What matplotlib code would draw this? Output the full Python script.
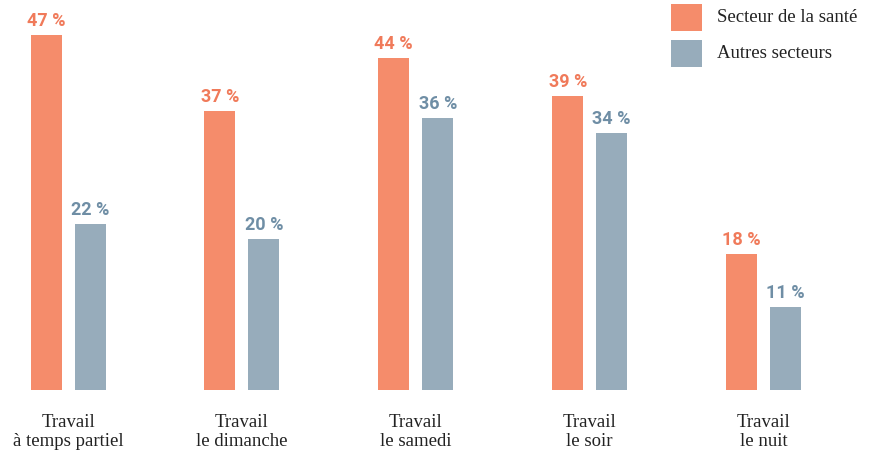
import matplotlib
matplotlib.use("Agg")
import matplotlib.pyplot as plt
from matplotlib.patches import Rectangle
import numpy as np

categories = ["Travail\nà temps partiel", "Travail\nle dimanche", "Travail\nle samedi", "Travail\nle soir", "Travail\nle nuit"]
series_names = ["Secteur de la santé", "Autres secteurs"]
sante = [47, 37, 44, 39, 18]
autres = [22, 20, 36, 34, 11]

bar_colors = ["#F58C6B", "#97ACBB"]
text_colors = ["#F07A5A", "#6F8EA5"]

W, H = 871, 454
fig = plt.figure(figsize=(W / 100, H / 100), dpi=100)
ax = fig.add_axes([0, 0, 1, 1])
step = 173.9
c0 = 68
base_px = 64
ppu = 7.55
ax.set_xlim(-c0 / step, (W - c0) / step)
ax.set_ylim(-base_px / ppu, (H - base_px) / ppu)
ax.axis("off")

x = np.arange(len(categories))
bw = 31 / step
off = 22 / step
for vals, dx, bc, tc in [(sante, -off, bar_colors[0], text_colors[0]),
                         (autres, off, bar_colors[1], text_colors[1])]:
    ax.bar(x + dx, vals, width=bw, color=bc, linewidth=0)
    for xi, v in zip(x, vals):
        ax.annotate(f"{v} %", (xi + dx, v), xytext=(0, 3.5), textcoords="offset points",
                    ha="center", va="bottom", fontsize=13, fontweight="bold",
                    family="Roboto", color=tc)

for xi, cat in zip(x, categories):
    ax.text(xi, -(432 - 390) / ppu, cat, ha="center", va="center",
            fontsize=13.5, family="Liberation Serif", color="#222222",
            linespacing=1.22)

# legend
for i, (name, bc) in enumerate(zip(series_names, bar_colors)):
    top = 4 + i * 36
    fig.patches.append(Rectangle((671 / W, 1 - (top + 27) / H), 31 / W, 27 / H,
                                 transform=fig.transFigure, color=bc, linewidth=0))
    fig.text(717 / W, 1 - (top + 13.5) / H, name, ha="left", va="center",
             fontsize=13.5, family="Liberation Serif", color="#222222")

fig.savefig("out.png", dpi=100)
